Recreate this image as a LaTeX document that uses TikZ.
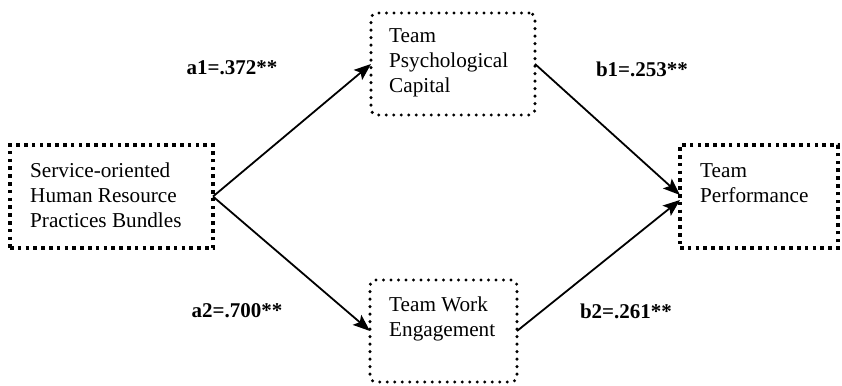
\documentclass[tikz,border=0pt]{standalone}
\usepackage{fontspec}
\setmainfont{Liberation Serif}
\usetikzlibrary{arrows.meta, positioning}

\begin{document}
\begin{tikzpicture}[x=1pt, y=-1pt,
  sqbox/.style={draw, line width=3.6pt, dash pattern=on 3.6pt off 4.2pt, line cap=butt,
                inner sep=0pt, outer sep=0pt},
  rdbox/.style={draw, line width=3.4pt, dash pattern=on 0pt off 7.5pt, line cap=round,
                rounded corners=6pt, inner sep=0pt, outer sep=0pt},
  boxtxt/.style={font=\fontsize{21.2}{25}\selectfont, align=left, anchor=base west, inner sep=0pt},
  coef/.style={font=\fontsize{21}{25}\selectfont\bfseries, anchor=base, inner sep=0pt},
  path/.style={line width=1.8pt, -{Stealth[length=17pt, width=13pt, inset=3.5pt]}},
]
  \useasboundingbox (0,0) rectangle (842,385);
  % construct boxes
  \node[sqbox, minimum width=203pt, minimum height=103pt] (hrp) at (111.5,196.5) {};
  \node[rdbox, minimum width=164pt, minimum height=102pt] (tpc) at (453,64) {};
  \node[rdbox, minimum width=147pt, minimum height=102pt] (twe) at (443.5,331) {};
  \node[sqbox, minimum width=158pt, minimum height=103pt] (tp) at (759,196.5) {};
  % box texts (base = last line)
  \node[boxtxt] (hrptxt) at (30,227) {Service-oriented\\Human Resource\\Practices Bundles};
  \node[boxtxt] (tpctxt) at (389,93) {Team\\Psychological\\Capital};
  \node[boxtxt] (twetxt) at (389,336) {Team Work\\Engagement};
  \node[boxtxt] (tptxt) at (700,202) {Team\\Performance};
  % paths
  \draw[path] (hrp.east) -- (tpc.west);
  \draw[path] (hrp.east) -- (twe.west);
  \draw[path] (tpc.east) -- ([yshift=1.5pt]tp.west);
  \draw[path] (twe.east) -- ([yshift=-3.5pt]tp.west);
  % coefficients
  \foreach \n/\x/\y/\t in {a1/232/75/a1=.372**, b1/642/77/b1=.253**,
                           a2/237/317/a2=.700**, b2/626/318/b2=.261**}{
    \node[coef] (\n) at (\x,\y) {\t};}
\end{tikzpicture}
\end{document}
